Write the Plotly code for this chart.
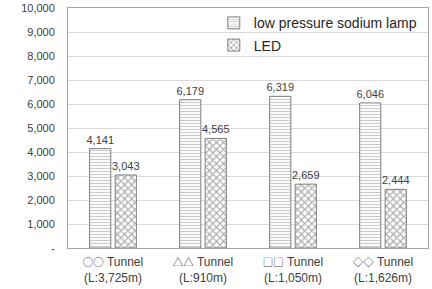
import plotly.graph_objects as go

symbols = ["○○", "△△", "□□", "◇◇"]
lengths = ["(L:3,725m)", "(L:910m)", "(L:1,050m)", "(L:1,626m)"]
categories = [f"{s} Tunnel<br>{l}" for s, l in zip(symbols, lengths)]
tick_labels = [f'<span style="font-family:Noto Sans CJK JP;font-size:10.5px">{s}</span> Tunnel<br>{l}'
               for s, l in zip(symbols, lengths)]
sodium = [4141, 6179, 6319, 6046]
led = [3043, 4565, 2659, 2444]
y_ticks = [0, 1000, 2000, 3000, 4000, 5000, 6000, 7000, 8000, 9000, 10000]
y_ticklabels = ["-", "1,000", "2,000", "3,000", "4,000", "5,000", "6,000",
                "7,000", "8,000", "9,000", "10,000"]

font_family = "Liberation Sans, Arial, sans-serif"
txt_color = "#404040"

fig = go.Figure()
fig.add_trace(go.Bar(
    name="low pressure sodium lamp", x=categories, y=sodium,
    legendgroup="a",
    marker=dict(color="white", line=dict(color="#7f7f7f", width=1),
                pattern=dict(shape="-", fgcolor="#9a9a9a", bgcolor="white",
                             size=3, solidity=0.4)),
    texttemplate="%{y:,}", textposition="outside", constraintext="none",
    textfont=dict(size=11, color=txt_color, family=font_family),
    cliponaxis=False,
))
fig.add_trace(go.Bar(
    name="LED", x=categories, y=led,
    legendgroup="b",
    marker=dict(color="white", line=dict(color="#7f7f7f", width=1),
                pattern=dict(shape="x", fgcolor="#4f4f4f", bgcolor="white",
                             size=5, solidity=0.4)),
    texttemplate="%{y:,}", textposition="outside", constraintext="none",
    textfont=dict(size=11, color=txt_color, family=font_family),
    cliponaxis=False,
))

fig.update_layout(
    width=432, height=289,
    margin=dict(l=68, r=4, t=8, b=41),
    paper_bgcolor="white", plot_bgcolor="white",
    barmode="group", bargap=0.433, bargroupgap=0.17,
    font=dict(family=font_family, size=11, color=txt_color),
    showlegend=True,
    legend=dict(x=0.405, y=1.003, xanchor="left", yanchor="top",
                bgcolor="rgba(0,0,0,0)", font=dict(size=14, color="#262626"),
                itemwidth=30, tracegroupgap=1),
)
fig.update_yaxes(range=[0, 10000], tickvals=y_ticks, ticktext=y_ticklabels,
                 showgrid=True, gridcolor="#d9d9d9", gridwidth=1,
                 showline=True, linecolor="#a6a6a6", mirror=True,
                 zeroline=False, ticks="", ticklabelstandoff=10,
                 automargin=False,
                 tickfont=dict(size=11, color=txt_color))
fig.update_xaxes(showline=True, linecolor="#a6a6a6", mirror=True,
                 ticks="", ticklabelstandoff=3, automargin=False,
                 tickvals=categories, ticktext=tick_labels,
                 tickfont=dict(size=12, color=txt_color))

fig.write_html("out.html")
